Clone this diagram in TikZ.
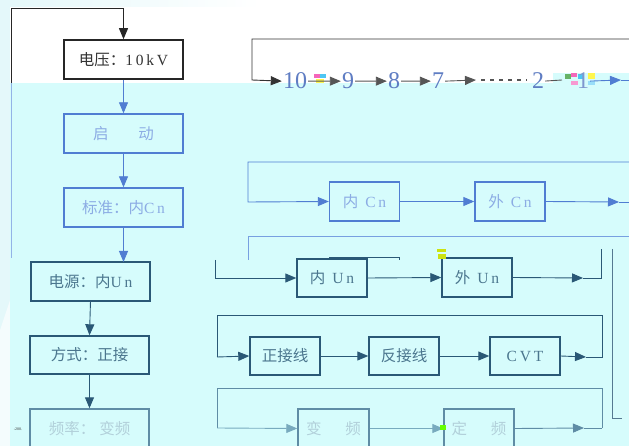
\documentclass[tikz,border=0pt]{standalone}
\usepackage{fontspec}
\setmainfont{Liberation Serif}
\newfontfamily\cjk{Noto Sans CJK SC}
\newfontfamily\lat[LetterSpace=18]{Liberation Serif}
\usetikzlibrary{arrows.meta}
\definecolor{cy}{RGB}{214,252,252}
\definecolor{paleleft}{RGB}{228,248,250}
\definecolor{bdblue}{RGB}{80,125,210}
\definecolor{txblue}{RGB}{140,172,228}
\definecolor{lnblue}{RGB}{120,160,225}
\definecolor{bddark}{RGB}{42,88,118}
\definecolor{txdark}{RGB}{75,118,142}
\definecolor{bdfade}{RGB}{95,140,165}
\definecolor{txfade}{RGB}{178,208,218}
\definecolor{lnfade}{RGB}{120,170,190}
\definecolor{gr}{RGB}{85,85,85}
\definecolor{numblue}{RGB}{95,125,195}
\tikzset{
  bigbox/.style={draw, line width=1.4pt, minimum width=119pt, minimum height=39pt, inner sep=0pt, font=\fontsize{15.5}{17}\selectfont},
  smallbox/.style={draw, line width=1.4pt, minimum width=70pt, minimum height=38pt, inner sep=0pt, font=\fontsize{15.5}{17}\selectfont},
  arr/.style={-{Triangle[length=11pt,width=9pt]}, line width=0.9pt},
  ln/.style={line width=0.9pt},
  num/.style={anchor=base, inner sep=1pt, font=\fontsize{24}{26}\selectfont},
  blu/.style={draw=bdblue, text=txblue},
  drk/.style={draw=bddark, text=txdark},
  fad/.style={draw=bdfade, text=txfade},
}
\begin{document}
\begin{tikzpicture}[x=1pt,y=-1pt]
\useasboundingbox (0,0) rectangle (629,446);
\clip (0,0) rectangle (629,446);
% background
\fill[white] (0,0) rectangle (629,446);
\shade[left color=paleleft, right color=white] (0,0) rectangle (260,7);
\fill[paleleft] (0,0) rectangle (10,446);
\fill[white!60!paleleft] (0,446) -- (0,330) -- (10,300) -- (10,446) -- cycle;
\fill[cy] (10,83) rectangle (629,446);
\fill[cy] (553,73) rectangle (629,83);

% colour noise (behind the figures)
\fill[magenta!60] (314,74) rectangle (320,78);
\fill[cyan!70] (320,74) rectangle (326,78);
\fill[yellow!70] (316,79) rectangle (324,83);
\fill[green!50!black!60] (565,74) rectangle (571,79);
\fill[magenta!60] (571,73) rectangle (577,77);
\fill[cyan!70] (578,74) rectangle (584,79);
\fill[yellow!70] (588,73) rectangle (595,79);
\fill[magenta!40] (571,81) rectangle (578,85);
\fill[cyan!40] (588,81) rectangle (595,85);

% left column
\node[bigbox, draw=black!85, text=black!80, line width=1.6pt] (v) at (123.5,59.5) {{\cjk 电压：}{\lat 10kV}};
\node[bigbox, blu] (qd) at (123.5,133.5) {{\cjk 启\hspace{30pt}动}};
\node[bigbox, blu] (bz) at (123.5,207.5) {{\cjk 标准：内}{\lat Cn}};
\node[bigbox, drk] (dy) at (90.5,281.5) {{\cjk 电源：内}{\lat Un}};
\node[bigbox, drk, minimum height=38pt] (fs) at (89.5,355) {{\cjk 方式：正接}};
\node[bigbox, fad] (pl) at (89.5,428.5) {{\cjk 频率：\hspace{4pt}变频}};

\draw[arr, bdblue] (v.south) -- (qd.north);
\draw[arr, bdblue] (qd.south) -- (bz.north);
\coordinate (bzdn) at (123.5,262);
\draw[arr, bdblue] (bz.south) -- (bzdn);
\coordinate (dyb) at (90.5,301);
\draw[arr, bddark] (dyb) -- (fs.north);
\draw[arr, bddark] (fs.south) -- (pl.north);

% top loop on the left
\coordinate (tl1) at (123.5,8);
\coordinate (tl2) at (11,8);
\coordinate (tl3) at (11,83);
\coordinate (tl4) at (11,258);
\draw[arr, black!85] (tl3) -- (tl2) -- (tl1) -- (v.north);
\draw[ln, lnblue!80] (tl3) -- (tl4);

% number row
\node[num, text=numblue] (n10) at (295,89) {10};
\node[num, text=numblue] (n9) at (348,89) {9};
\node[num, text=numblue] (n8) at (394,89) {8};
\node[num, text=numblue] (n7) at (438,89) {7};
\node[num, text=numblue] (n2) at (538,89) {2};
\node[num, text=numblue!80] (n1) at (583,89) {1};
\coordinate (r0) at (629,39);
\coordinate (r1) at (252,39);
\coordinate (r2) at (252,80);
\draw[arr, black!80] (r0) -- (r1) -- (r2) -- (n10.west);
\draw[arr, gr] (n10.east) -- (n9.west);
\draw[arr, gr] (n9.east) -- (n8.west);
\draw[arr, gr] (n8.east) -- (n7.west);
\coordinate (d0) at (476,80);
\coordinate (d1) at (481,80);
\coordinate (d2) at (527,80);
\draw[arr, gr] (n7.east) -- (d0);
\draw[gr, line width=1.2pt, dash pattern=on 3.5pt off 5.5pt] (d1) -- (d2);
\coordinate (g0) at (562,80);
\draw[ln, gr] (n2.east) -- (g0);
\coordinate (e1) at (621,80);
\coordinate (e2) at (629,80);
\draw[arr, bdblue] (n1.east) -- (e1);
\draw[ln, bdblue] (e1) -- (e2);

% Cn loop
\node[smallbox, blu, minimum height=39pt] (ncn) at (364.5,201.5) {{\cjk 内}\hspace{7pt}{\lat Cn}};
\node[smallbox, blu, minimum height=39pt] (wcn) at (510,201.5) {{\cjk 外}\hspace{7pt}{\lat Cn}};
\coordinate (c0) at (629,162);
\coordinate (c1) at (248,162);
\coordinate (c2) at (248,202);
\draw[arr, bdblue] (c0) -- (c1) -- (c2) -- (ncn.west);
\draw[arr, bdblue] (ncn.east) -- (wcn.west);
\coordinate (c3) at (619,202);
\coordinate (c4) at (629,202);
\draw[arr, bdblue] (wcn.east) -- (c3);
\draw[ln, bdblue] (c3) -- (c4);

% Un loop
\node[smallbox, drk] (nun) at (332,278) {{\cjk 内}\hspace{7pt}{\lat Un}};
\node[smallbox, drk, minimum height=39pt] (wun) at (477,277.5) {{\cjk 外}\hspace{7pt}{\lat Un}};
\coordinate (u0) at (629,236);
\coordinate (u1) at (248,236);
\coordinate (u2) at (248,260);
\draw[ln, lnblue] (u0) -- (u1) -- (u2);
\coordinate (u3) at (215,260);
\coordinate (u4) at (215,278);
\draw[arr, bddark] (u3) -- (u4) -- (nun.west);
\draw[arr, bddark] (nun.east) -- (wun.west);
\coordinate (u5) at (583,278);
\coordinate (u6) at (601,278);
\coordinate (u7) at (601,249);
\draw[arr, bddark] (wun.east) -- (u5);
\draw[ln, bddark] (u5) -- (u6) -- (u7);
\coordinate (g1) at (329,260);
\coordinate (g2) at (329,257.5);
\coordinate (g3) at (399,257.5);
\coordinate (g4) at (399,260);
\draw[line width=0.8pt, bddark] (g1) -- (g2) -- (g3) -- (g4);
\fill[yellow!80!green] (437,249) rectangle (446,252);
\fill[yellow!80!green] (438,254) rectangle (446,259);
% long right line
\coordinate (v0) at (612,249);
\coordinate (v1) at (612,418);
\coordinate (v2) at (622,418);
\draw[ln, bddark!80] (v0) -- (v1) -- (v2);

% connection-type loop
\node[smallbox, drk] (zjx) at (285,356) {\cjk 正接线};
\node[smallbox, drk] (fjx) at (404,356) {\cjk 反接线};
\node[smallbox, drk] (cvt) at (525,356) {\lat CVT};
\coordinate (z0) at (602,357);
\coordinate (z1) at (602,315);
\coordinate (z2) at (217,315);
\coordinate (z3) at (217,357);
\draw[arr, bddark] (z3) -- (zjx.west);
\draw[arr, bddark] (zjx.east) -- (fjx.west);
\draw[arr, bddark] (fjx.east) -- (cvt.west);
\coordinate (z4) at (586,357);
\draw[arr, bddark] (cvt.east) -- (z4);
\draw[ln, bddark] (z4) -- (z0) -- (z1) -- (z2) -- (z3);

% frequency loop
\node[smallbox, fad, minimum height=39pt, minimum width=71pt] (bp) at (333.5,428.5) {{\cjk 变\hspace{24pt}频}};
\node[smallbox, fad, minimum height=39pt] (dp) at (479,428.5) {{\cjk 定\hspace{24pt}频}};
\coordinate (f0) at (602,428);
\coordinate (f1) at (602,388);
\coordinate (f2) at (217,388);
\coordinate (f3) at (217,428);
\draw[ln, bdfade] (f0) -- (f1) -- (f2) -- (f3);
\draw[arr, lnfade] (f3) -- (bp.west);
\draw[arr, lnfade] (bp.east) -- (dp.west);
\coordinate (f4) at (584,428);
\draw[arr, bdfade] (dp.east) -- (f4);
\draw[ln, bdfade] (f4) -- (f0);
\fill[green!60!yellow] (440,425) rectangle (446,430);

% tiny stray text
\node[font=\fontsize{4}{4}\selectfont, inner sep=0pt, text=black!80] (st) at (18,429) {-200.};
\end{tikzpicture}
\end{document}
